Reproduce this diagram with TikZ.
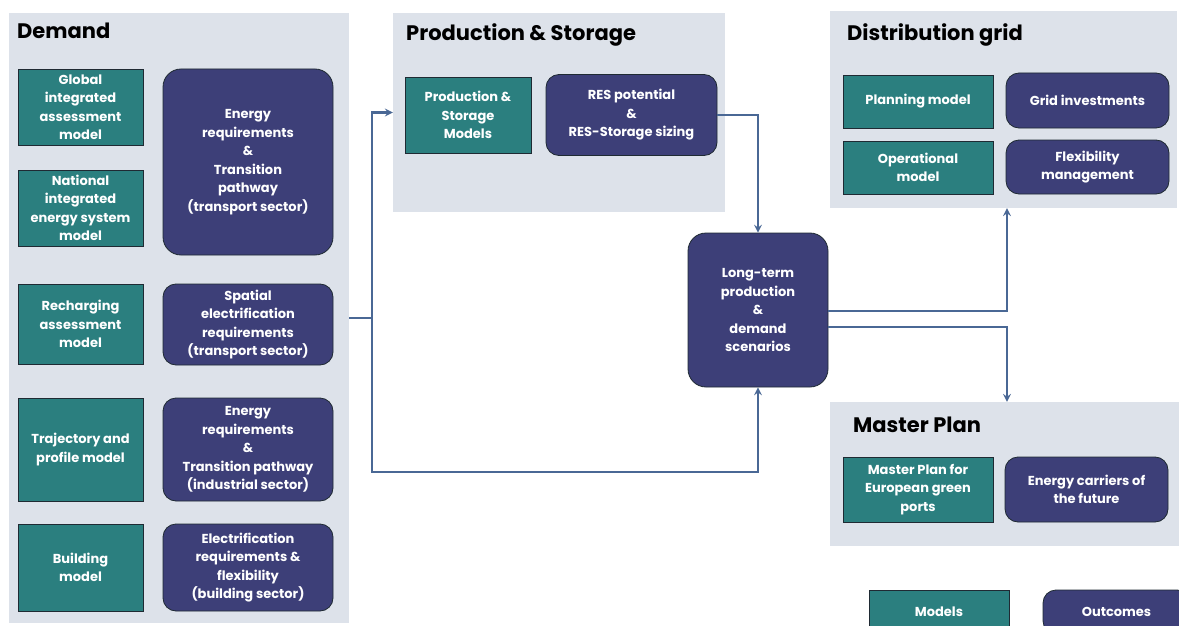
\documentclass[tikz,border=0pt]{standalone}
\usepackage{fontspec}
\setmainfont{Poppins}
\usepackage{tikz}
\usetikzlibrary{arrows}
\definecolor{mteal}{HTML}{2B7F7F}
\definecolor{mpurple}{HTML}{3D3F78}
\definecolor{pgray}{HTML}{DDE2EA}
\definecolor{fblue}{HTML}{4A6895}
\definecolor{edge}{HTML}{1F2A33}
\begin{document}
\begin{tikzpicture}[x=1pt,y=-1pt,>=stealth,
  panel/.style={fill=pgray,inner sep=0pt},
  ptitle/.style={anchor=north west,inner sep=0pt,font=\fontsize{21}{24}\selectfont\bfseries},
  model/.style={draw=edge,line width=0.8pt,fill=mteal,text=white,align=center,inner sep=2pt,font=\fontsize{13}{18.5}\selectfont\bfseries},
  outc/.style={model,fill=mpurple,rounded corners=13pt},
  flow/.style={draw=fblue,line width=2.4pt}]
\useasboundingbox (0,0) rectangle (1179,626);
\clip (0,0) rectangle (1179,626);
% panels
\node[panel,minimum width=340,minimum height=610] (demand) at (179,318) {};
\node[ptitle] (tdem) at (17,23) {Demand};
\node[panel,minimum width=332,minimum height=199] (prod) at (559,112.5) {};
\node[ptitle] (tprod) at (406,23) {Production \& Storage};
\node[panel,minimum width=347,minimum height=197] (dist) at (1003.5,109.5) {};
\node[ptitle] (tdist) at (847,23) {Distribution grid};
\node[panel,minimum width=349,minimum height=144] (master) at (1004.5,474) {};
\node[ptitle] (tmast) at (853,417) {Master Plan};
% demand side
\node[model,minimum width=125,minimum height=76] (glob) at (80.5,107) {Global\\integrated\\assessment\\model};
\node[model,minimum width=125,minimum height=76] (natl) at (80.5,208) {National\\integrated\\energy system\\model};
\node[model,minimum width=125,minimum height=80] (rech) at (80.5,324) {Recharging\\assessment\\model};
\node[model,minimum width=125,minimum height=103] (traj) at (80.5,449.5) {Trajectory and\\profile model};
\node[model,minimum width=125,minimum height=87] (bldg) at (80.5,567.5) {Building\\model};
\node[outc,minimum width=170,minimum height=186,rounded corners=18pt] (entr) at (248,162) {Energy\\requirements\\\&\\Transition\\pathway\\(transport sector)};
\node[outc,minimum width=170,minimum height=81] (spat) at (248,324.5) {Spatial\\electrification\\requirements\\(transport sector)};
\node[outc,minimum width=170,minimum height=103] (enin) at (248,449.5) {Energy\\requirements\\\&\\Transition pathway\\(industrial sector)};
\node[outc,minimum width=170,minimum height=87] (elec) at (248,567.5) {Electrification\\requirements \&\\flexibility\\(building sector)};
% production and storage
\node[model,minimum width=126,minimum height=76] (psm) at (468,115) {Production \&\\Storage\\Models};
\node[outc,minimum width=171,minimum height=81] (res) at (631.5,115) {RES potential\\\&\\RES-Storage sizing};
\node[outc,minimum width=140,minimum height=154,rounded corners=18pt] (lts) at (758,310) {Long-term\\production\\\&\\demand\\scenarios};
% distribution grid
\node[model,minimum width=150,minimum height=53] (plan) at (918,101.5) {Planning model};
\node[outc,minimum width=163,minimum height=55] (grid) at (1087.5,100.5) {Grid investments};
\node[model,minimum width=150,minimum height=53] (oper) at (918,167.5) {Operational\\model};
\node[outc,minimum width=163,minimum height=54] (flex) at (1087.5,167) {Flexibility\\management};
% master plan
\node[model,minimum width=150,minimum height=65] (mpm) at (918,489.5) {Master Plan for\\European green\\ports};
\node[outc,minimum width=163,minimum height=65] (carr) at (1086.5,489.5) {Energy carriers of\\the future};
% legend
\node[model,minimum width=140,minimum height=44] (lmod) at (939,612) {Models};
\node[outc,minimum width=147,minimum height=44] (lout) at (1116.5,612) {Outcomes};
% connectors
\coordinate (j) at (372,318);
\coordinate (k) at (372,472);
\draw[flow] (demand.east) -- (j);
\draw[flow,->] (j) |- (prod.west);
\draw[flow,->] (j) -- (k) -| (lts.south);
\draw[flow,->] (res.east) -| (lts.north);
\draw[flow,->] ([yshift=-1pt]lts.east) -| ([xshift=3.5pt]dist.south);
\draw[flow,->] ([yshift=-17pt]lts.east) -| ([xshift=2.5pt]master.north);
\end{tikzpicture}
\end{document}
